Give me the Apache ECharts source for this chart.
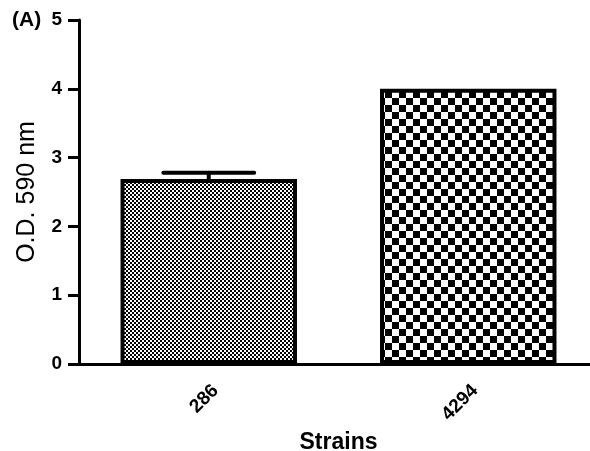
<!DOCTYPE html>
<html>
<head>
<meta charset="utf-8">
<script src="https://cdn.jsdelivr.net/npm/echarts@6/dist/echarts.min.js"></script>
<style>
html,body{margin:0;padding:0;background:#fff;}
#chart{width:590px;height:451px;}
</style>
</head>
<body>
<div id="chart"></div>
<script>
const categories = ['286', '4294'];
const values = [2.69, 4.0];
const errors = [0.09, 0];
const yTicks = [0, 1, 2, 3, 4, 5];

function checker(cell) {
  const c = document.createElement('canvas');
  c.width = cell * 2; c.height = cell * 2;
  const g = c.getContext('2d');
  g.fillStyle = '#fff'; g.fillRect(0, 0, cell * 2, cell * 2);
  g.fillStyle = '#000';
  g.fillRect(0, 0, cell, cell);
  g.fillRect(cell, cell, cell, cell);
  return { image: c, repeat: 'repeat' };
}
const patterns = [checker(2), checker(7)];

const FONT = '"Liberation Sans", Arial, Helvetica, sans-serif';
const chart = echarts.init(document.getElementById('chart'), null, { renderer: 'canvas' });

chart.setOption({
  backgroundColor: '#fff',
  animation: false,
  graphic: [{
    type: 'text', left: 12, top: 10,
    style: { text: '(A)', font: 'bold 21px ' + FONT, fill: '#000' }
  }],
  grid: { left: 79, top: 20, width: 519, height: 344, containLabel: false, outerBoundsMode: 'none' },
  xAxis: {
    type: 'category',
    data: categories,
    name: 'Strains',
    nameLocation: 'middle',
    nameGap: 66,
    nameTextStyle: { fontFamily: FONT, fontWeight: 'bold', fontSize: 23, color: '#000' },
    axisLine: { lineStyle: { color: '#000', width: 3 } },
    axisTick: { alignWithLabel: true, length: 12, lineStyle: { color: '#000', width: 3 } },
    axisLabel: { rotate: 45, margin: 17, verticalAlign: 'top', fontFamily: FONT, fontWeight: 'bold', fontSize: 19, color: '#000' }
  },
  yAxis: {
    type: 'value',
    min: yTicks[0], max: yTicks[yTicks.length - 1], interval: 1,
    name: 'O.D. 590 nm',
    nameLocation: 'middle',
    nameGap: 39,
    nameTextStyle: { fontFamily: FONT, fontSize: 25, color: '#000' },
    axisLine: { show: true, lineStyle: { color: '#000', width: 3 } },
    axisTick: { show: true, length: 11, lineStyle: { color: '#000', width: 3 } },
    axisLabel: { margin: 17, fontFamily: FONT, fontWeight: 'bold', fontSize: 19, color: '#000' },
    splitLine: { show: false }
  },
  series: [{
    type: 'bar',
    data: values.map((v, i) => ({ value: v, itemStyle: { color: patterns[i] } })),
    barWidth: '68%',
    itemStyle: { borderColor: '#000', borderWidth: 4 },
    z: 2
  }, {
    type: 'custom',
    data: values.map((v, i) => [i, v, errors[i]]),
    z: 3,
    renderItem: function (params, api) {
      const idx = api.value(0), v = api.value(1), e = api.value(2);
      if (!e) return null;
      const p0 = api.coord([idx, v]);
      const p1 = api.coord([idx, v + e]);
      const half = api.size([1, 0])[0] * 0.175;
      const st = { stroke: '#000', lineWidth: 4, lineCap: 'round' };
      return {
        type: 'group',
        children: [
          { type: 'line', shape: { x1: p0[0], y1: p0[1], x2: p1[0], y2: p1[1] }, style: st },
          { type: 'line', shape: { x1: p1[0] - half, y1: p1[1], x2: p1[0] + half, y2: p1[1] }, style: st }
        ]
      };
    }
  }]
});
</script>
</body>
</html>
